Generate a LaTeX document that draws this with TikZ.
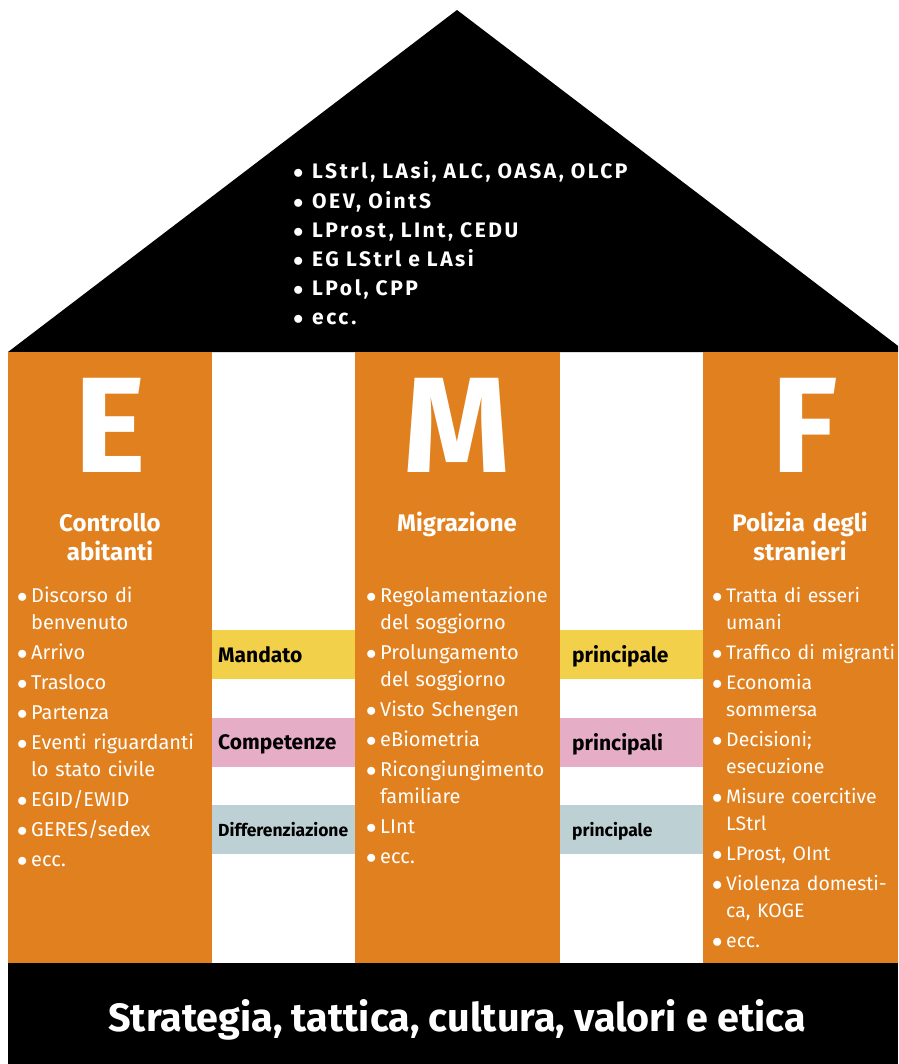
\documentclass[tikz,border=0pt]{standalone}
\usepackage{fontspec}
\setmainfont{Fira Sans}
\definecolor{pillarorange}{HTML}{E1801F}
\definecolor{mandyellow}{HTML}{F3D04A}
\definecolor{comppink}{HTML}{E6ADC6}
\definecolor{diffgrey}{HTML}{BDD1D4}
% one bullet item with hanging indent
\newlength{\bulw}
\setlength{\bulw}{14pt}
\newcommand{\bul}[1]{\hangindent=\bulw\hangafter=1\noindent\makebox[\bulw][l]{$\bullet$}#1\par}
\newcommand{\listskip}{\setlength{\parskip}{3pt}}
\tikzset{
  pillar/.style={fill=pillarorange},
  bigletter/.style={text=white,anchor=base,inner sep=0pt,
    font=\fontsize{136}{136}\selectfont\bfseries},
  pillarhead/.style={text=white,anchor=base,inner sep=0pt,align=center,
    text width=190pt,font=\fontsize{24}{29}\selectfont\bfseries},
  itemlist/.style={text=white,anchor=base west,inner sep=0pt,align=left,
    text width=240pt,font=\fontsize{20}{27}\selectfont},
  bandlabel/.style={anchor=base west,inner sep=0pt,
    font=\fontsize{21}{21}\selectfont\bfseries},
  smalllabel/.style={bandlabel,font=\fontsize{17.5}{17.5}\selectfont\bfseries}
}
\begin{document}
\begin{tikzpicture}[x=1pt,y=-1pt]
	\useasboundingbox (0,0) rectangle (898,1064);
	\clip (0,0) rectangle (898,1064);
	% Draw roof
	\fill[black] (8,352) coordinate (roof_l) -- (457,10) coordinate (apex)
	-- (906,352) coordinate (roof_r) -- cycle;
	\node (rooflist) [itemlist,text width=400pt,
	  font=\fontsize{21}{29.2}\selectfont\bfseries\addfontfeatures{LetterSpace=12}] at (293,179)
	  {\setlength{\bulw}{19pt}\bul{LStrl, LAsi, ALC, OASA, OLCP}\bul{OEV, OintS}\bul{LProst, LInt, CEDU}%
	   \bul{EG LStrl e LAsi}\bul{LPol, CPP}\bul{ecc.}};
	% Draw the three pillars
	\fill[pillar] (8,352) rectangle (212,965);
	\fill[pillar] (355,352) rectangle (560,965);
	\fill[pillar] (703,352) rectangle (898,965);
	% Draw bands between the pillars
	\fill[mandyellow] (212,630) rectangle (355,679);
	\fill[mandyellow] (560,630) rectangle (703,679);
	\fill[comppink] (212,718) rectangle (355,767);
	\fill[comppink] (560,718) rectangle (703,767);
	\fill[diffgrey] (212,805) rectangle (355,854);
	\fill[diffgrey] (560,805) rectangle (703,854);
	\node (mandato) [bandlabel] at (218,662) {Mandato};
	\node (competenze) [bandlabel] at (218,749) {Competenze};
	\node (differenz) [smalllabel] at (218,836) {Differenziazione};
	\node (princ_a) [bandlabel] at (572,662) {principale};
	\node (princ_b) [bandlabel] at (572,750) {principali};
	\node (princ_c) [smalllabel] at (572,836) {principale};
	% Pillar E
	\node (letter_e) [bigletter] at (110,472) {E};
	\node (head_e) [pillarhead] at (110,531) {Controllo\\abitanti};
	\node (list_e) [itemlist] at (17,602)
	  {\listskip\bul{Discorso di\newline benvenuto}\bul{Arrivo}\bul{Trasloco}\bul{Partenza}%
	   \bul{Eventi riguardanti\newline lo stato civile}\bul{EGID/EWID}\bul{GERES/sedex}\bul{ecc.}};
	% Pillar M
	\node (letter_m) [bigletter] at (457,472) {M};
	\node (head_m) [pillarhead] at (457,531) {Migrazione};
	\node (list_m) [itemlist] at (366,602)
	  {\listskip\bul{Regolamentazione\newline del soggiorno}\bul{Prolungamento\newline del soggiorno}%
	   \bul{Visto Schengen}\bul{eBiometria}\bul{Ricongiungimento\newline familiare}\bul{LInt}\bul{ecc.}};
	% Pillar F
	\node (letter_f) [bigletter] at (805,472) {F};
	\node (head_f) [pillarhead] at (800,531) {Polizia degli\\stranieri};
	\node (list_f) [itemlist,font=\fontsize{19.5}{27}\selectfont] at (712,602)
	  {\listskip\bul{Tratta di esseri\newline umani}\bul{Traffico di migranti}\bul{Economia\newline sommersa}%
	   \bul{Decisioni;\newline esecuzione}\bul{Misure coercitive\newline LStrl}\bul{LProst, OInt}%
	   \bul{Violenza domesti-\newline ca, KOGE}\bul{ecc.}};
	% Draw foundation
	\fill[black] (8,963) rectangle (898,1064);
	\node (base) [text=white,anchor=base,inner sep=0pt,
	  font=\fontsize{39.5}{39.5}\selectfont\bfseries] at (457,1031)
	  {Strategia, tattica, cultura, valori e etica};
\end{tikzpicture}
\end{document}
